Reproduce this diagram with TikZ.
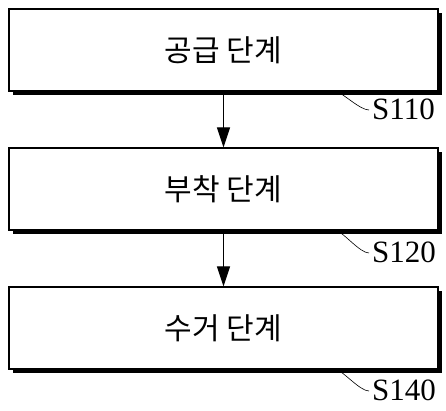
\documentclass[tikz,border=0pt]{standalone}
\usepackage{fontspec}
\setmainfont{Liberation Serif}
\newfontfamily\kofont{Noto Sans CJK KR}
\usetikzlibrary{arrows.meta,shadows}
\begin{document}
\begin{tikzpicture}[x=1pt,y=1pt,
  stepbox/.style={draw=black, line width=1.1pt, fill=white, minimum width=429pt, minimum height=82pt, inner sep=0pt,
    font=\kofont\fontsize{30}{34}\selectfont,
    drop shadow={shadow xshift=4pt, shadow yshift=-4pt, fill=black, opacity=1}},
  flow/.style={line width=1pt, -{Triangle[length=20pt,width=13pt]}},
  lead/.style={line width=0.6pt},
  steplabel/.style={font=\fontsize{31}{34}\selectfont, inner sep=0pt, anchor=west}]
\useasboundingbox (0,0) rectangle (446,-411);
\node[stepbox] (b1) at (223.5,-50) {\raisebox{-3pt}{공급 단계}};
\node[stepbox] (b2) at (223.5,-189) {\raisebox{-2pt}{부착 단계}};
\node[stepbox] (b3) at (223.5,-328) {\raisebox{-2pt}{수거 단계}};
\draw[flow] (b1.south) -- (b2.north);
\draw[flow] (b2.south) -- (b3.north);
\node[steplabel] (l1) at (372,-109) {S110};
\node[steplabel] (l2) at (372,-252) {S120};
\node[steplabel] (l3) at (372,-390) {S140};
\coordinate (c1) at ([xshift=113pt]b1.south);
\coordinate (c2) at ([xshift=113pt]b2.south);
\coordinate (c3) at ([xshift=113pt]b3.south);
\draw[lead] (c1) .. controls +(7pt,-2pt) and +(-9pt,0pt) .. ([xshift=-3pt,yshift=-1pt]l1.west);
\draw[lead] (c2) .. controls +(7pt,-2pt) and +(-9pt,0pt) .. ([xshift=-3pt,yshift=-1pt]l2.west);
\draw[lead] (c3) .. controls +(7pt,-2pt) and +(-9pt,0pt) .. ([xshift=-3pt,yshift=-1pt]l3.west);
\end{tikzpicture}
\end{document}
